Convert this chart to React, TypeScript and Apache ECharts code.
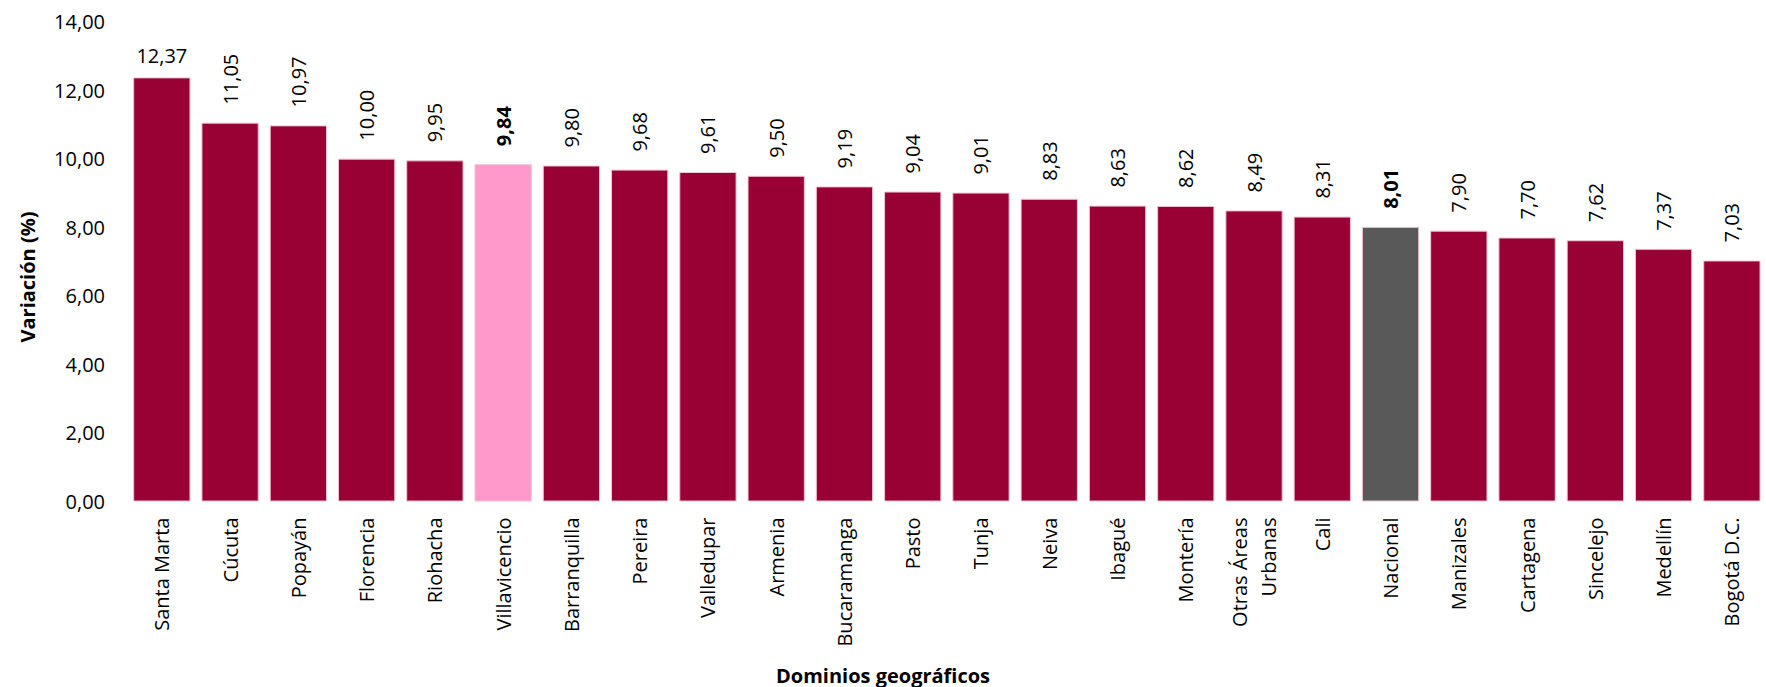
import React, { useEffect, useRef } from "react";
import * as echarts from "echarts";

const categories = [
  "Santa Marta", "Cúcuta", "Popayán", "Florencia", "Riohacha", "Villavicencio",
  "Barranquilla", "Pereira", "Valledupar", "Armenia", "Bucaramanga", "Pasto",
  "Tunja", "Neiva", "Ibagué", "Montería", "Otras Áreas\nUrbanas", "Cali",
  "Nacional", "Manizales", "Cartagena", "Sincelejo", "Medellín", "Bogotá D.C.",
];
const values = [
  12.37, 11.05, 10.97, 10.0, 9.95, 9.84, 9.8, 9.68, 9.61, 9.5, 9.19, 9.04,
  9.01, 8.83, 8.63, 8.62, 8.49, 8.31, 8.01, 7.9, 7.7, 7.62, 7.37, 7.03,
];
const pinkCategories = ["Villavicencio"];
const grayCategories = ["Nacional"];
const yTicks = [0, 2, 4, 6, 8, 10, 12, 14];

const FONT = "'Open Sans', 'Noto Sans', sans-serif";
const BASE = "#990033";
const PINK = "#FF99CC";
const GRAY = "#595959";

const fmt = (v: number) => v.toFixed(2).replace(".", ",");

export default function App() {
  const ref = useRef<HTMLDivElement>(null);
  useEffect(() => {
    if (!ref.current) return;
    const chart = echarts.init(ref.current, undefined, { renderer: "svg" });
    const data = values.map((v, i) => {
      const cat = categories[i];
      const isPink = pinkCategories.includes(cat);
      const isGray = grayCategories.includes(cat);
      const color = isPink ? PINK : isGray ? GRAY : BASE;
      const bold = isPink || isGray;
      const label =
        i === 0
          ? { rotate: 0, align: "center", verticalAlign: "bottom", distance: 12 }
          : { rotate: 90, align: "left", verticalAlign: "middle", distance: 18 };
      return {
        value: v,
        itemStyle: { color },
        label: { ...label, fontWeight: bold ? "bold" : "normal" },
      };
    });
    chart.setOption({
      animation: false,
      textStyle: { fontFamily: FONT },
      grid: { left: 127.7, right: -9.1, top: 21.5, bottom: 185.5, containLabel: false },
      xAxis: {
        type: "category",
        data: categories,
        axisLine: { show: false },
        axisTick: { show: false },
        axisLabel: {
          rotate: 90,
          interval: 0,
          margin: 16,
          fontSize: 20,
          color: "#000",
          fontFamily: FONT,
          lineHeight: 29,
        },
      },
      yAxis: {
        type: "value",
        min: yTicks[0],
        max: yTicks[yTicks.length - 1],
        interval: 2,
        axisLine: { show: false },
        axisTick: { show: false },
        splitLine: { show: false },
        axisLabel: {
          margin: 22.7,
          fontSize: 20,
          color: "#000",
          fontFamily: FONT,
          formatter: (v: number) => fmt(v),
        },
      },
      series: [
        {
          type: "bar",
          data,
          barWidth: 57.3,
          itemStyle: { borderColor: "#f0c4d2", borderWidth: 1 },
          label: {
            show: true,
            position: "top",
            fontSize: 20,
            color: "#000",
            fontFamily: FONT,
            formatter: (p: any) => fmt(p.value),
          },
        },
      ],
      graphic: [
        {
          type: "text",
          x: 27,
          y: 277,
          rotation: Math.PI / 2,
          style: {
            text: "Variación (%)",
            font: `bold 20px ${FONT}`,
            fill: "#000",
            align: "center",
            verticalAlign: "middle",
          },
        },
        {
          type: "text",
          x: 883,
          y: 675,
          style: {
            text: "Dominios geográficos",
            font: `bold 20px ${FONT}`,
            fill: "#000",
            align: "center",
            verticalAlign: "middle",
          },
        },
      ],
    });
    return () => chart.dispose();
  }, []);
  return (
    <div
      ref={ref}
      style={{ position: "absolute", left: 0, top: 0, width: 1766, height: 687 }}
    />
  );
}
